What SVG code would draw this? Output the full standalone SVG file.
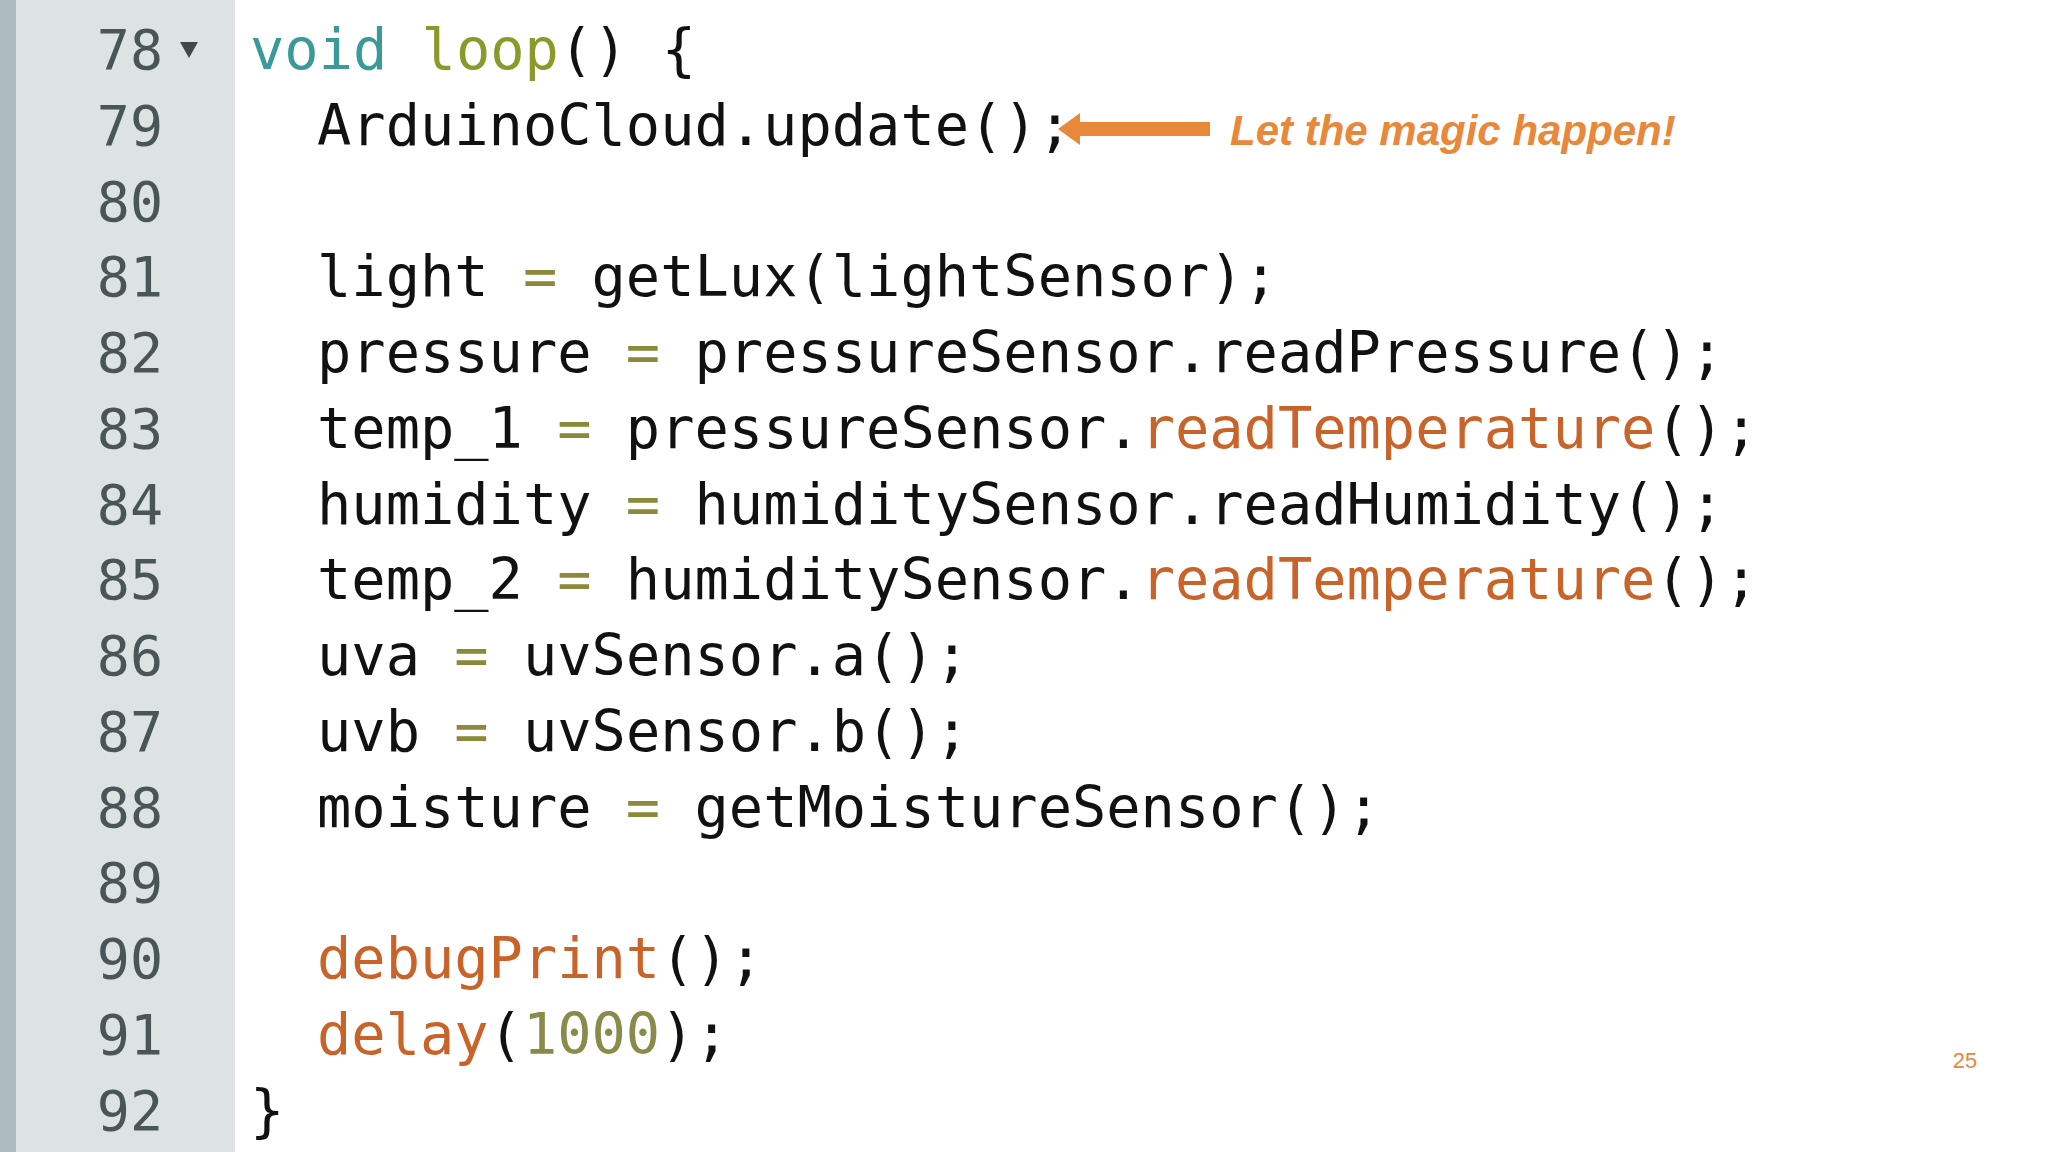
<svg xmlns="http://www.w3.org/2000/svg" width="2048" height="1152" viewBox="0 0 2048 1152">
<style>
.c{font-family:"DejaVu Sans Mono",monospace;font-size:57px;fill:#111}
.n{font-family:"DejaVu Sans Mono",monospace;font-size:55px;fill:#4a5558;text-anchor:end}
.k{fill:#3a9a9a}.l{fill:#8a9a2a}.e{fill:#8a8a3a}.f{fill:#c8632a}.num{fill:#8a8a4a}
</style>
<rect width="2048" height="1152" fill="#fff"/>
<rect x="0" y="0" width="235" height="1152" fill="#dde3e3"/>
<rect x="0" y="0" width="16" height="1152" fill="#aebcc0"/>
<g id="gutter">
<text class="n" x="163" y="69">78</text>
<polygon points="180,42 198,42 189,58" fill="#3e4a4d"/>
<text class="n" x="163" y="145">79</text>
<text class="n" x="163" y="221">80</text>
<text class="n" x="163" y="296">81</text>
<text class="n" x="163" y="372">82</text>
<text class="n" x="163" y="448">83</text>
<text class="n" x="163" y="524">84</text>
<text class="n" x="163" y="599">85</text>
<text class="n" x="163" y="675">86</text>
<text class="n" x="163" y="751">87</text>
<text class="n" x="163" y="827">88</text>
<text class="n" x="163" y="902">89</text>
<text class="n" x="163" y="978">90</text>
<text class="n" x="163" y="1054">91</text>
<text class="n" x="163" y="1130">92</text>
</g>
<g id="code">
<text class="c" x="250" y="69"><tspan class="k">void</tspan> <tspan class="l">loop</tspan>() {</text>
<text class="c" x="317" y="145">ArduinoCloud.update();</text>
<text class="c" x="317" y="296">light <tspan class="e">=</tspan> getLux(lightSensor);</text>
<text class="c" x="317" y="372">pressure <tspan class="e">=</tspan> pressureSensor.readPressure();</text>
<text class="c" x="317" y="448">temp_1 <tspan class="e">=</tspan> pressureSensor.<tspan class="f">readTemperature</tspan>();</text>
<text class="c" x="317" y="524">humidity <tspan class="e">=</tspan> humiditySensor.readHumidity();</text>
<text class="c" x="317" y="599">temp_2 <tspan class="e">=</tspan> humiditySensor.<tspan class="f">readTemperature</tspan>();</text>
<text class="c" x="317" y="675">uva <tspan class="e">=</tspan> uvSensor.a();</text>
<text class="c" x="317" y="751">uvb <tspan class="e">=</tspan> uvSensor.b();</text>
<text class="c" x="317" y="827">moisture <tspan class="e">=</tspan> getMoistureSensor();</text>
<text class="c" x="317" y="978"><tspan class="f">debugPrint</tspan>();</text>
<text class="c" x="317" y="1054"><tspan class="f">delay</tspan>(<tspan class="num">1000</tspan>);</text>
<text class="c" x="250" y="1130">}</text>
</g>
<g id="connectors">
<rect x="1075" y="122" width="135" height="14" fill="#e8883a"/>
<polygon points="1058,129 1080,113 1080,145" fill="#e8883a"/>
</g>
<g id="note">
<text x="1230" y="145" font-family="Liberation Sans,sans-serif" font-size="42" font-weight="bold" font-style="italic" fill="#e8883a">Let the magic happen!</text>
</g>
<text x="1965" y="1068" font-family="Liberation Sans,sans-serif" font-size="22" fill="#e8883a" text-anchor="middle">25</text>
</svg>
